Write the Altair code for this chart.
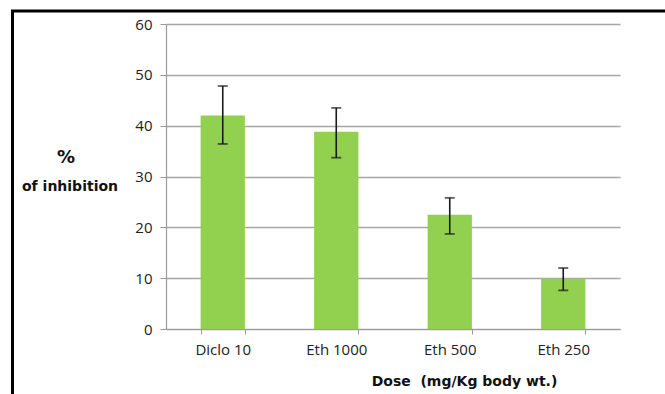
import altair as alt
import pandas as pd

# Percent inhibition per treatment dose, with error bar limits
doses = ["Diclo 10", "Eth 1000", "Eth 500", "Eth 250"]
inhibition = [42.0, 38.8, 22.5, 9.9]
err_low = [36.4, 33.7, 18.7, 7.6]
err_high = [47.8, 43.5, 25.8, 12.0]

df = pd.DataFrame({"dose": doses, "value": inhibition, "lo": err_low, "hi": err_high})

W, H = 454, 305
PAD_L, PAD_T = 166, 24

x_enc = alt.X(
    "dose:N",
    sort=doses,
    scale=alt.Scale(paddingInner=0.61, paddingOuter=0.305),
    axis=alt.Axis(
        title="Dose\u00a0\u00a0(mg/Kg body wt.)",
        titleFont="DejaVu Sans",
        titleFontWeight="bold",
        titleFontSize=14,
        titleColor="#111111",
        titleX=298,
        titleY=52,
        titleAlign="center",
        titleBaseline="middle",
        labelAngle=0,
        labelFont="Open Sans",
        labelFontSize=15,
        labelColor="#222222",
        labelPadding=8,
        tickBand="extent",
        tickSize=5,
        tickColor="#9a9a9a",
        domainColor="#9a9a9a",
        domainWidth=1.2,
        grid=False,
    ),
)

y_scale = alt.Scale(domain=[0, 60], nice=False)

bars = alt.Chart(df).mark_bar(color="#92D050").encode(
    x=x_enc,
    y=alt.Y(
        "value:Q",
        scale=y_scale,
        axis=alt.Axis(
            title=None,
            values=[0, 10, 20, 30, 40, 50, 60],
            labelFont="Open Sans",
            labelFontSize=15,
            labelColor="#222222",
            labelPadding=8,
            tickSize=6,
            tickColor="#9a9a9a",
            domainColor="#9a9a9a",
            domainWidth=1.2,
            gridColor="#a6a6a6",
            gridWidth=1.3,
        ),
    ),
)

err_rule = alt.Chart(df).mark_rule(color="#1a1a1a", strokeWidth=1.6).encode(
    x=alt.X("dose:N", sort=doses),
    y=alt.Y("lo:Q", scale=y_scale),
    y2="hi:Q",
)
cap_lo = alt.Chart(df).mark_tick(color="#1a1a1a", thickness=1.8, size=10, orient="horizontal").encode(
    x=alt.X("dose:N", sort=doses), y=alt.Y("lo:Q", scale=y_scale)
)
cap_hi = alt.Chart(df).mark_tick(color="#1a1a1a", thickness=1.8, size=10, orient="horizontal").encode(
    x=alt.X("dose:N", sort=doses), y=alt.Y("hi:Q", scale=y_scale)
)

one = alt.Data(values=[{}])

pct = alt.Chart(one).mark_text(
    text="%", font="DejaVu Sans", fontWeight="bold", fontSize=18, color="#111111",
    align="center", baseline="middle",
).encode(x=alt.value(66 - PAD_L), y=alt.value(158 - PAD_T))

inhib = alt.Chart(one).mark_text(
    text="of inhibition", font="DejaVu Sans", fontWeight="bold", fontSize=14, color="#111111",
    align="center", baseline="middle",
).encode(x=alt.value(70 - PAD_L), y=alt.value(187 - PAD_T))

# Outer frame (left and top edges)
frame_left = alt.Chart(one).mark_rule(color="black", strokeWidth=3).encode(
    x=alt.value(12.5 - PAD_L), y=alt.value(11 - PAD_T), y2=alt.value(420)
)
frame_top = alt.Chart(one).mark_rule(color="black", strokeWidth=3).encode(
    x=alt.value(11 - PAD_L), x2=alt.value(700), y=alt.value(11 - PAD_T)
)

chart = (
    alt.layer(bars, err_rule, cap_lo, cap_hi, pct, inhib, frame_left, frame_top)
    .properties(
        width=W,
        height=H,
        autosize=alt.AutoSizeParams(type="none"),
        padding={"left": PAD_L, "top": PAD_T, "right": 665 - PAD_L - W, "bottom": 394 - PAD_T - H},
        background="white",
    )
    .configure_view(stroke=None)
)

chart.save("out.html", embed_options={"renderer": "svg", "actions": False})
